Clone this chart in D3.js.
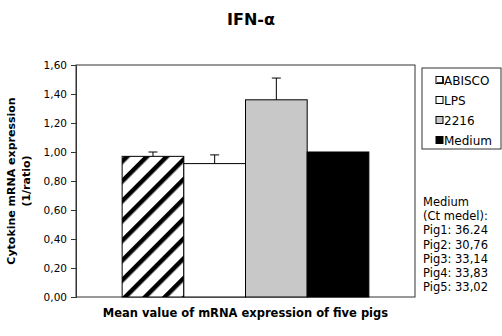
<!DOCTYPE html>
<html lang="en">
<head>
  <meta charset="UTF-8">
  <title>IFN-alpha</title>
  <style>
    body { margin: 0; background: #fff; }
    text { font-family: "DejaVu Sans", Verdana, sans-serif; fill: #000; }
  </style>
</head>
<body>
  <svg id="container" width="502" height="336"></svg>
</body>
<script src="https://cdn.jsdelivr.net/npm/d3@7"></script>
<script>
  // data
  let categories = ["Mean"]
  let seriesNames = ["ABISCO", "LPS", "2216", "Medium"]
  let seriesValues = [0.97, 0.92, 1.36, 1.00]
  let seriesErrors = [0.03, 0.06, 0.15, 0]
  let yTicks = [0, 0.2, 0.4, 0.6, 0.8, 1.0, 1.2, 1.4, 1.6]
  let noteLines = ["Medium", "(Ct medel):", "Pig1: 36.24", "Pig2: 30,76", "Pig3: 33,14", "Pig4: 33,83", "Pig5: 33,02"]

  let fills = ["url(#hatch)", "#ffffff", "#c8c8c8", "#000000"]

  let svg = d3.select("#container")
  let plot = { left: 76, right: 415, top: 65, bottom: 297 }

  let defs = svg.append("defs")
  let hatch = defs.append("pattern")
                  .attr("id", "hatch")
                  .attr("patternUnits", "userSpaceOnUse")
                  .attr("width", 14)
                  .attr("height", 14)
                  .attr("patternTransform", "rotate(45)")
  hatch.append("rect").attr("width", 14).attr("height", 14).attr("fill", "#fff")
  hatch.append("rect").attr("width", 4.5).attr("height", 14).attr("fill", "#000")

  let y = d3.scaleLinear().domain([0, 1.6]).range([plot.bottom, plot.top])
  let x0 = d3.scaleBand().domain(categories).range([plot.left, plot.right])
             .paddingInner(0).paddingOuter(0.187)
  let x1 = d3.scaleBand().domain(seriesNames).range([0, x0.bandwidth()]).padding(0)

  // plot frame
  svg.append("rect")
     .attr("x", plot.left).attr("y", plot.top)
     .attr("width", plot.right - plot.left).attr("height", plot.bottom - plot.top)
     .attr("fill", "none").attr("stroke", "#333").attr("stroke-width", 1)

  let fmt = d => d.toFixed(2).replace(".", ",")
  let yAxis = svg.append("g")
                 .attr("transform", `translate(${plot.left},0)`)
                 .call(d3.axisLeft(y).tickValues(yTicks).tickFormat(fmt).tickSize(5).tickPadding(4))
  yAxis.select(".domain").attr("stroke", "#333")
  yAxis.selectAll(".tick line").attr("stroke", "#333")
  yAxis.selectAll("text").style("font-size", "10.5px").attr("fill", "#000")

  let bars = seriesNames.map((s, i) => ({ name: s, value: seriesValues[i], err: seriesErrors[i], fill: fills[i] }))

  let g = svg.append("g").attr("transform", `translate(${x0(categories[0])},0)`)

  g.selectAll("rect.bar")
   .data(bars)
   .enter()
   .append("rect")
   .attr("class", "bar")
   .attr("x", d => x1(d.name))
   .attr("y", d => y(d.value))
   .attr("width", x1.bandwidth())
   .attr("height", d => y(0) - y(d.value))
   .attr("fill", d => d.fill)
   .attr("stroke", "#000")
   .attr("stroke-width", 1)

  let errs = g.selectAll("g.err")
              .data(bars.filter(d => d.err > 0))
              .enter()
              .append("g")
              .attr("class", "err")
  errs.append("line")
      .attr("x1", d => x1(d.name) + x1.bandwidth() / 2)
      .attr("x2", d => x1(d.name) + x1.bandwidth() / 2)
      .attr("y1", d => y(d.value))
      .attr("y2", d => y(d.value + d.err))
      .attr("stroke", "#000")
  errs.append("line")
      .attr("x1", d => x1(d.name) + x1.bandwidth() / 2 - 4.5)
      .attr("x2", d => x1(d.name) + x1.bandwidth() / 2 + 4.5)
      .attr("y1", d => y(d.value + d.err))
      .attr("y2", d => y(d.value + d.err))
      .attr("stroke", "#000")

  // titles
  svg.append("text")
     .attr("x", 251).attr("y", 25)
     .attr("text-anchor", "middle")
     .style("font-size", "16px").style("font-weight", "bold")
     .text("IFN-α")

  svg.append("text")
     .attr("x", (plot.left + plot.right) / 2).attr("y", 317)
     .attr("text-anchor", "middle")
     .style("font-size", "11.5px").style("font-weight", "bold")
     .text("Mean value of mRNA expression of five pigs")

  let yTitle = svg.append("text")
                  .attr("transform", `translate(15,${(plot.top + plot.bottom) / 2}) rotate(-90)`)
                  .attr("text-anchor", "middle")
                  .style("font-size", "11px").style("font-weight", "bold")
  yTitle.append("tspan").attr("x", 0).attr("y", 0).text("Cytokine mRNA expression")
  yTitle.append("tspan").attr("x", 0).attr("y", 15).text("(1/ratio)")

  // legend
  let legend = svg.append("g").attr("transform", "translate(422,68)")
  legend.append("rect")
        .attr("width", 79).attr("height", 81)
        .attr("fill", "#fff").attr("stroke", "#333")
  let items = legend.selectAll("g.item")
                    .data(bars)
                    .enter()
                    .append("g")
                    .attr("class", "item")
                    .attr("transform", (d, i) => `translate(14,${12 + i * 20})`)
  items.append("rect")
       .attr("x", 0).attr("y", -3.5)
       .attr("width", 7).attr("height", 7)
       .attr("fill", (d, i) => i === 0 ? "#fff" : d.fill)
       .attr("stroke", "#000")
       .attr("stroke-width", 1)
  items.filter((d, i) => i === 0)
       .append("path")
       .attr("d", "M1,3 L7,3 L7,-3")
       .attr("fill", "none").attr("stroke", "#000").attr("stroke-width", 1.5)
  items.append("text")
       .attr("x", 8).attr("y", 4.5)
       .style("font-size", "12px")
       .text(d => d.name)

  // medium Ct note
  svg.append("g")
     .selectAll("text")
     .data(noteLines)
     .enter()
     .append("text")
     .attr("x", 423)
     .attr("y", (d, i) => 206 + i * 14.2)
     .style("font-size", "11.5px")
     .text(d => d)
</script>
</html>
